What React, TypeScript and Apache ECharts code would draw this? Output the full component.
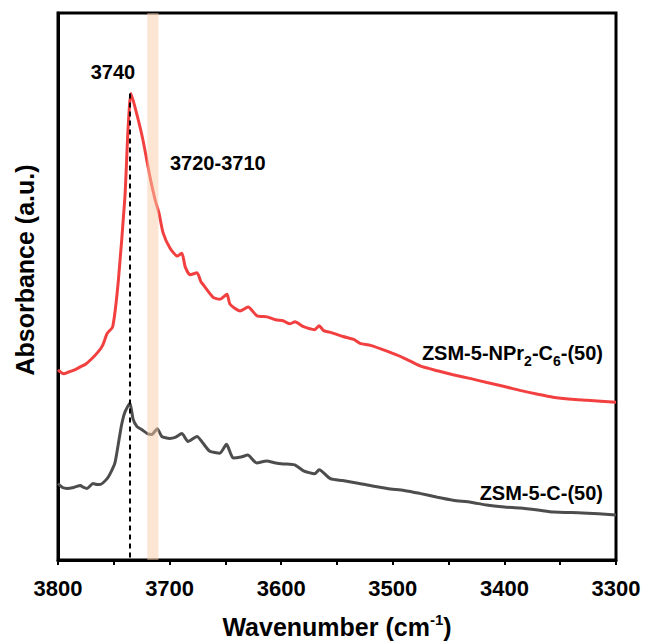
import React, { useEffect, useRef } from "react";
import * as echarts from "echarts";

// Wavenumber (cm-1) and absorbance (a.u., offset for display)
const redWn = [3800, 3795, 3790, 3785, 3780, 3775, 3770, 3765, 3760, 3756, 3751, 3746, 3740, 3737.3, 3734.6, 3729.2, 3723.8, 3717.6, 3713.1, 3709.5, 3705.9, 3699.6, 3693, 3689, 3686, 3681.7, 3675.4, 3672, 3670, 3661, 3655, 3648.6, 3645.9, 3636.9, 3629.7, 3621.6, 3612.7, 3605, 3598.4, 3592, 3587.6, 3580, 3570, 3566, 3562, 3555, 3544.6, 3535, 3529.4, 3520, 3505.2, 3490, 3475.6, 3460, 3446, 3430, 3415.6, 3400, 3386, 3370, 3356.4, 3340, 3326, 3300];
const redAbs = [1.94, 1.9, 1.92, 1.94, 1.97, 2.0, 2.05, 2.11, 2.19, 2.31, 2.38, 2.84, 3.71, 4.38, 4.76, 4.54, 4.28, 3.91, 3.68, 3.54, 3.34, 3.18, 3.1, 3.13, 2.99, 2.91, 2.93, 2.84, 2.81, 2.68, 2.66, 2.71, 2.61, 2.54, 2.58, 2.49, 2.48, 2.45, 2.44, 2.41, 2.43, 2.38, 2.35, 2.39, 2.34, 2.32, 2.28, 2.25, 2.21, 2.19, 2.13, 2.06, 1.98, 1.93, 1.89, 1.85, 1.81, 1.77, 1.73, 1.69, 1.66, 1.64, 1.63, 1.61];

const grayWn = [3800, 3796, 3792, 3786, 3780, 3777, 3774, 3768.6, 3765, 3762.4, 3756, 3752, 3749, 3746, 3743, 3740, 3735.5, 3732.8, 3729.2, 3725, 3720, 3716, 3711, 3707, 3700, 3695, 3689, 3683.5, 3675.4, 3670, 3664, 3655, 3649, 3643, 3636, 3630, 3622, 3613, 3605, 3598, 3588, 3580, 3570, 3566, 3556, 3545, 3530, 3505, 3490, 3476, 3460, 3446, 3430, 3416, 3400, 3386, 3370, 3356, 3330, 3300];
const grayAbs = [0.78, 0.74, 0.73, 0.74, 0.76, 0.74, 0.73, 0.78, 0.77, 0.77, 0.83, 0.91, 0.99, 1.18, 1.38, 1.51, 1.6, 1.44, 1.36, 1.33, 1.29, 1.28, 1.34, 1.26, 1.24, 1.25, 1.29, 1.21, 1.26, 1.19, 1.11, 1.09, 1.18, 1.04, 1.05, 1.07, 0.99, 1.01, 0.99, 0.98, 0.97, 0.91, 0.88, 0.92, 0.83, 0.81, 0.78, 0.73, 0.71, 0.68, 0.64, 0.61, 0.59, 0.56, 0.54, 0.53, 0.51, 0.49, 0.48, 0.46];

const xTicks = { min: 3300, max: 3800, interval: 100 };
const band = [3720, 3710];
const peakWn = 3735.5;
const peakAbs = 4.76;

const FONT = "'Liberation Sans', Arial, sans-serif";

export default function App() {
  const ref = useRef<HTMLDivElement>(null);
  useEffect(() => {
    const chart = echarts.init(ref.current!, null, { renderer: "svg" });
    const red = redWn.map((w, i) => [w, redAbs[i]]);
    const gray = grayWn.map((w, i) => [w, grayAbs[i]]);
    chart.setOption({
      animation: false,
      backgroundColor: "#fff",
      grid: {
        left: 58,
        top: 13,
        right: 32,
        bottom: 73,
        show: true,
        borderColor: "#000",
        borderWidth: 3,
      },
      xAxis: {
        type: "value",
        inverse: true,
        min: xTicks.min,
        max: xTicks.max,
        interval: xTicks.interval,
        axisLine: { show: true, lineStyle: { color: "#000", width: 3 } },
        axisTick: { show: true, inside: false, length: 5, lineStyle: { color: "#000", width: 2 } },
        minorTick: { show: true, splitNumber: 2, length: 5, lineStyle: { color: "#000", width: 2 } },
        splitLine: { show: false },
        axisLabel: {
          color: "#000",
          fontFamily: FONT,
          fontWeight: "bold",
          fontSize: 22,
          margin: 17,
          formatter: (v: number) => String(v),
        },
        name: "Wavenumber (cm{sup|-1})",
        nameLocation: "middle",
        nameGap: 52,
        nameTextStyle: {
          color: "#000",
          fontFamily: FONT,
          fontWeight: "bold",
          fontSize: 25,
          rich: {
            sup: {
              fontFamily: FONT,
              fontWeight: "bold",
              fontSize: 15,
              color: "#000",
              padding: [0, 0, 14, 0],
            },
          },
        },
      },
      yAxis: {
        type: "value",
        min: 0,
        max: 5.58,
        axisLine: { show: true, lineStyle: { color: "#000", width: 3 } },
        axisTick: { show: false },
        axisLabel: { show: false },
        splitLine: { show: false },
      },
      graphic: [
        {
          type: "text",
          x: 25,
          y: 270,
          rotation: Math.PI / 2,
          style: {
            text: "Absorbance (a.u.)",
            fill: "#000",
            font: `bold 25px ${FONT}`,
            textAlign: "center",
            textVerticalAlign: "middle",
          },
        },
        {
          type: "text",
          x: 113,
          y: 72,
          style: {
            text: "3740",
            fill: "#000",
            font: `bold 20px ${FONT}`,
            textAlign: "center",
            textVerticalAlign: "middle",
          },
        },
        {
          type: "text",
          x: 170,
          y: 163,
          style: {
            text: "3720-3710",
            fill: "#000",
            font: `bold 20px ${FONT}`,
            textAlign: "left",
            textVerticalAlign: "middle",
          },
        },
        {
          type: "text",
          x: 603,
          y: 353,
          style: {
            text: "{a|ZSM-5-NPr}{s|2}{a|-C}{s|6}{a|-(50)}",
            textAlign: "right",
            textVerticalAlign: "middle",
            rich: {
              a: { fontFamily: FONT, fontWeight: "bold", fontSize: 20, fill: "#000", color: "#000" },
              s: { fontFamily: FONT, fontWeight: "bold", fontSize: 14, fill: "#000", color: "#000", padding: [15, 0, 0, 0] },
            },
          },
        },
        {
          type: "text",
          x: 603,
          y: 493,
          style: {
            text: "ZSM-5-C-(50)",
            fill: "#000",
            font: `bold 20px ${FONT}`,
            textAlign: "right",
            textVerticalAlign: "middle",
          },
        },
      ],
      series: [
        {
          name: "ZSM-5-NPr2-C6-(50)",
          type: "line",
          data: red,
          showSymbol: false,
          smooth: 0.2,
          z: 3,
          lineStyle: { color: "#F24040", width: 3 },
        },
        {
          name: "ZSM-5-C-(50)",
          type: "line",
          data: gray,
          showSymbol: false,
          smooth: 0.2,
          z: 3,
          lineStyle: { color: "#4D4D4D", width: 3 },
          markLine: {
            silent: true,
            symbol: ["none", "none"],
            label: { show: false },
            lineStyle: { color: "#000", width: 2, type: [5, 4] },
            data: [[{ coord: [peakWn, peakAbs] }, { coord: [peakWn, 0] }]],
          },
        },
        {
          name: "band",
          type: "line",
          data: [],
          z: 10,
          markArea: {
            silent: true,
            z: 10,
            itemStyle: { color: "rgba(249,203,167,0.5)" },
            data: [[{ xAxis: band[0] }, { xAxis: band[1] }]],
          },
        },
      ],
    });
    return () => chart.dispose();
  }, []);
  return (
    <div
      ref={ref}
      style={{ position: "absolute", left: 0, top: 0, width: 648, height: 644 }}
    />
  );
}
